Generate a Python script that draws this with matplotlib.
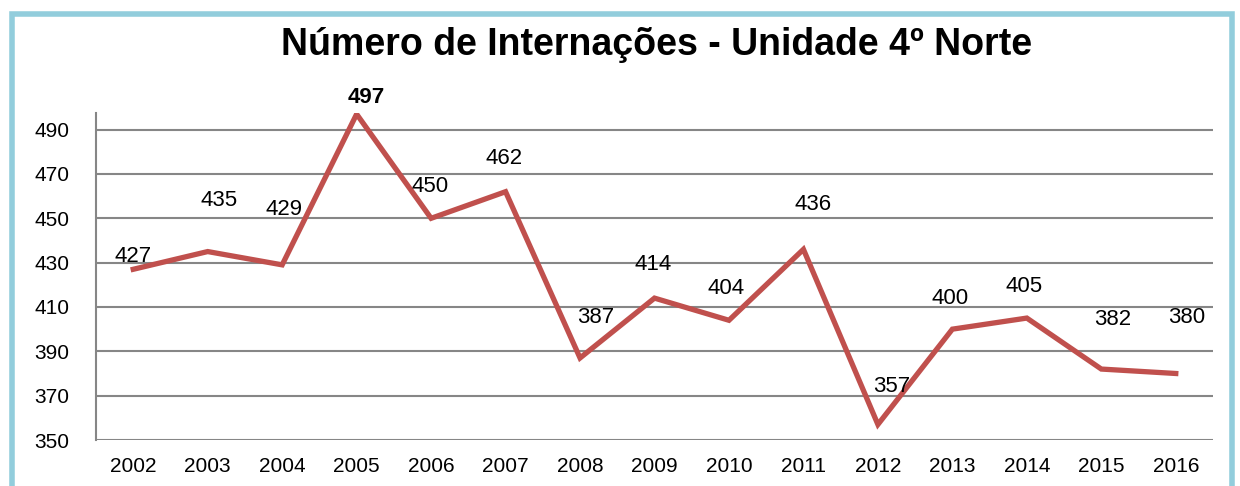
import numpy as np
import matplotlib
matplotlib.use("Agg")
import matplotlib.pyplot as plt
from matplotlib.patches import Rectangle

years = ["2002", "2003", "2004", "2005", "2006", "2007", "2008", "2009",
         "2010", "2011", "2012", "2013", "2014", "2015", "2016"]
internacoes = [427, 435, 429, 497, 450, 462, 387, 414, 404, 436, 357, 400, 405, 382, 380]
yticks = [350, 370, 390, 410, 430, 450, 470, 490]

# label offsets in points (approximate placement as in the original)
label_dx = [0, 8, 1, 7, -1, -1, 11, -1, -2, 7, 10, -2, -2, 8, 8]
label_dy = [9, 37, 40, 12, 23, 24, 29, 24, 23, 32, 27, 22, 23, 36, 40]

plt.rcParams['font.family'] = ['Liberation Sans', 'DejaVu Sans']

fig = plt.figure(figsize=(12.4, 4.86), dpi=100)

# blue frame around chart
fig.patches.append(Rectangle((12 / 1240, -0.05), 1220 / 1240, 1.05 - 14 / 486,
                             transform=fig.transFigure, fill=False,
                             edgecolor="#92CDDC", linewidth=4, zorder=0))

ax = fig.add_axes([96 / 1240, 1 - 440 / 486, (1213 - 96) / 1240, (440 - 113) / 486])
x = np.arange(len(years))
ax.plot(x, internacoes, color="#C0504D", linewidth=3.8, solid_joinstyle="miter", zorder=3)

for i, v in enumerate(internacoes):
    ax.annotate(str(v), (x[i], v), xytext=(label_dx[i], label_dy[i]),
                textcoords="offset points", ha="center", va="center",
                fontsize=16, fontweight="bold" if v == max(internacoes) else "normal",
                zorder=4)

ax.set_xlim(-0.5, len(years) - 0.5)
ax.set_ylim(350, 497.5)
ax.set_xticks(x)
ax.set_xticklabels(years)
ax.set_yticks(yticks)
ax.tick_params(axis="both", length=0, labelsize=15)
ax.tick_params(axis="x", pad=12)
ax.tick_params(axis="y", pad=19)
ax.grid(axis="y", color="#868686", linewidth=1.5)
ax.set_axisbelow(True)
for s in ["top", "right", "bottom"]:
    ax.spines[s].set_visible(False)
ax.spines["left"].set_color("#868686")
ax.spines["left"].set_linewidth(1.5)

fig.text(657 / 1240, 1 - 45 / 486, "Número de Internações - Unidade 4º Norte",
         ha="center", va="center", fontsize=27, fontweight="bold")

fig.savefig("out.png", dpi=100)
